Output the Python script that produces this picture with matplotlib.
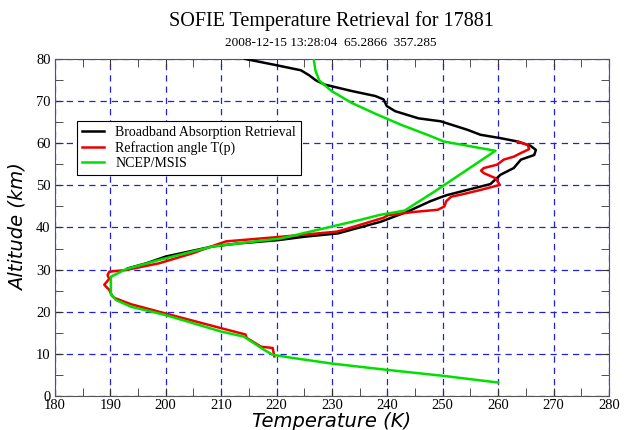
import matplotlib
matplotlib.use("Agg")
import matplotlib.pyplot as plt
from matplotlib.ticker import MultipleLocator

# profiles: altitude (km) and temperature (K)
bb_alt = [80, 78.5, 77.3, 76.1, 74.9, 73.9, 73.5, 72.4, 71.2, 70.4, 68.8, 67.6,
          65.9, 65.2, 63.2, 62.0, 61.2, 60.4, 59.4, 58.4, 57.2, 56.1, 54.1, 52.5,
          50.3, 49.3, 47.7, 47.2, 46.2, 43.8, 41.4, 38.6, 37.8, 37.0, 36.2, 35.5,
          33.1, 31.5, 30.3]
bb_temp = [214.3, 220.0, 224.4, 225.9, 227.1, 228.7, 230.0, 233.5, 237.8, 239.3,
           239.9, 241.4, 245.6, 249.6, 254.4, 256.8, 260.4, 263.5, 265.8, 266.8,
           266.5, 264.1, 262.8, 260.4, 258.6, 255.6, 250.8, 249.7, 247.7, 243.7,
           238.9, 231.1, 225.0, 220.3, 213.0, 208.5, 200.0, 196.5, 193.2]

rf_alt = [60.4, 59.6, 58.6, 57.6, 56.8, 56.1, 54.9, 54.1, 53.5, 52.9, 51.7, 50.1,
          48.9, 47.8, 47.3, 46.2, 45.0, 44.2, 43.7, 42.9, 42.3, 39.3, 39.0, 37.7,
          36.7, 35.9, 33.9, 31.5, 29.9, 29.5, 28.7, 27.8, 26.4, 25.6, 25.2, 23.6,
          23.2, 21.8, 20.0, 16.1, 14.6, 13.8, 11.7, 11.4, 9.4]
rf_temp = [263.5, 265.3, 265.6, 264.0, 262.8, 261.0, 259.8, 257.4, 256.9, 257.4,
           259.5, 260.3, 256.8, 253.3, 251.5, 250.6, 250.3, 249.1, 244.9, 240.1,
           239.3, 231.7, 230.8, 220.0, 210.9, 209.1, 204.9, 198.8, 192.8, 189.8,
           189.5, 189.8, 188.9, 189.5, 189.8, 190.4, 190.9, 193.7, 198.8, 210.0,
           214.4, 214.6, 217.2, 219.3, 219.6]

ncep_alt = [80, 77.3, 74.9, 72.4, 69.6, 67.0, 64.3, 62.0, 60.4, 58.2, 48.6, 44.0,
            43.0, 41.8, 37.4, 35.5, 32.3, 30.1, 28.3, 24.2, 22.8, 21.2, 19.2, 15.3,
            14.1, 11.0, 9.8, 9.1, 7.7, 6.2, 4.8, 3.2]
ncep_temp = [226.7, 227.0, 227.7, 229.9, 233.5, 237.8, 242.6, 247.2, 250.2, 259.5,
             248.6, 243.1, 238.7, 235.1, 220.8, 208.5, 198.8, 192.8, 190.1, 190.1,
             191.0, 193.7, 200.0, 210.0, 214.1, 217.7, 219.3, 222.6, 230.0, 240.0,
             250.0, 260.0]

serif = 'Liberation Serif'

fig = plt.figure(figsize=(6.24, 4.30), dpi=100)
ax = fig.add_axes([0.088, 0.079, 0.888, 0.784])

ax.plot(bb_temp, bb_alt, color='black', lw=1.8, label='Broadband Absorption Retrieval', zorder=3)
ax.plot(rf_temp, rf_alt, color='#ee0000', lw=1.8, label='Refraction angle T(p)', zorder=4)
ax.plot(ncep_temp, ncep_alt, color='#00e000', lw=1.8, label='NCEP/MSIS', zorder=5)

ax.set_xlim(180, 280)
ax.set_ylim(0, 80)
ax.xaxis.set_major_locator(MultipleLocator(10))
ax.xaxis.set_minor_locator(MultipleLocator(5))
ax.yaxis.set_major_locator(MultipleLocator(10))
ax.yaxis.set_minor_locator(MultipleLocator(5))
ax.tick_params(which='both', direction='in', top=True, right=True, color='#333333', length=6)
ax.tick_params(axis='x', which='major', labelsize=10.5, pad=2)
ax.tick_params(axis='y', which='major', labelsize=10.5, pad=3)
for lab in ax.get_xticklabels() + ax.get_yticklabels():
    lab.set_family(serif)
for sp in ax.spines.values():
    sp.set_color('#555555')

ax.grid(True, which='major', color='#2222dd', ls=(0, (5, 4)), lw=0.9)
ax.set_axisbelow(True)

ax.set_xlabel('Temperature (K)', fontsize=14, style='italic', labelpad=0)
ax.set_ylabel('Altitude (km)', fontsize=14, style='italic', labelpad=6)

fig.text(0.531, 0.951, 'SOFIE Temperature Retrieval for 17881', ha='center', va='center',
         family=serif, fontsize=14.5)
fig.text(0.530, 0.899, '2008-12-15 13:28:04  65.2866  357.285', ha='center', va='center',
         family=serif, fontsize=9.5)

leg = ax.legend(loc='upper left', bbox_to_anchor=(0.04, 0.815), prop={'family': serif, 'size': 10},
                frameon=True, fancybox=False, handlelength=1.6, borderpad=0.35,
                labelspacing=0.15, handletextpad=0.8, borderaxespad=0)
leg.get_frame().set_edgecolor('black')
leg.get_frame().set_linewidth(0.8)
leg.get_frame().set_alpha(1)

fig.savefig('out.png', dpi=100)
